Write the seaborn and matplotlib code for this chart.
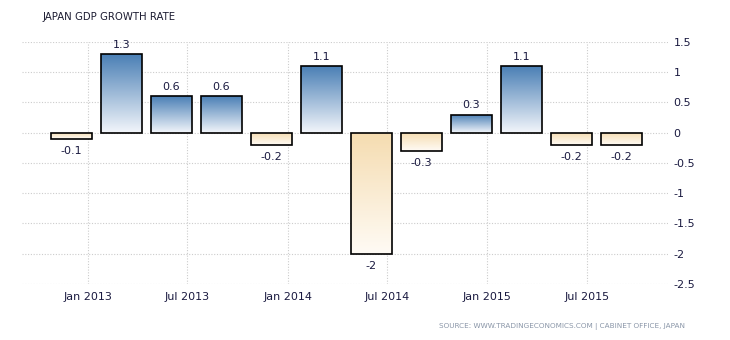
import numpy as np
import pandas as pd
import matplotlib
matplotlib.use("Agg")
import matplotlib.pyplot as plt
import seaborn as sns
from matplotlib.colors import LinearSegmentedColormap

quarters = ["Q4 2012", "Q1 2013", "Q2 2013", "Q3 2013", "Q4 2013", "Q1 2014",
            "Q2 2014", "Q3 2014", "Q4 2014", "Q1 2015", "Q2 2015", "Q3 2015"]
values = [-0.1, 1.3, 0.6, 0.6, -0.2, 1.1, -2.0, -0.3, 0.3, 1.1, -0.2, -0.2]
value_labels = ["-0.1", "1.3", "0.6", "0.6", "-0.2", "1.1", "-2", "-0.3", "0.3", "1.1", "-0.2", "-0.2"]
xtick_labels = ["Jan 2013", "Jul 2013", "Jan 2014", "Jul 2014", "Jan 2015", "Jul 2015"]
xtick_pos = [0.34, 2.32, 4.33, 6.32, 8.31, 10.31]
ytick_vals = [1.5, 1, 0.5, 0, -0.5, -1, -1.5, -2, -2.5]
ytick_labels = ["1.5", "1", "0.5", "0", "-0.5", "-1", "-1.5", "-2", "-2.5"]

df = pd.DataFrame({"quarter": quarters, "value": values})

sns.set_theme(style="white")
plt.rcParams["font.family"] = ["DejaVu Sans"]

fig = plt.figure(figsize=(7.3, 3.4), dpi=100)
ax = fig.add_axes([0.030, 0.1647, 0.885, 0.7118])

sns.barplot(data=df, x="quarter", y="value", ax=ax, width=0.81,
            facecolor="none", edgecolor="black", linewidth=1.2, errorbar=None, zorder=3)
for p in ax.patches:
    p.set_joinstyle("miter")

ax.set_xlim(-0.99, 11.93)
ax.set_ylim(-2.5, 1.5)

blue_cmap = LinearSegmentedColormap.from_list("b", ["#f3f6fb", "#4a7fb5"])
beige_cmap = LinearSegmentedColormap.from_list("o", ["#fffbf5", "#f5dcb0"])

grad = np.linspace(0, 1, 256).reshape(-1, 1)
for patch, v in zip(ax.patches, values):
    x0 = patch.get_x()
    w = patch.get_width()
    y0 = patch.get_y()
    h = patch.get_height()
    ylo, yhi = min(y0, y0 + h), max(y0, y0 + h)
    cmap = blue_cmap if v >= 0 else beige_cmap
    im = ax.imshow(grad, cmap=cmap, aspect="auto", origin="lower",
                   extent=[x0, x0 + w, ylo, yhi], zorder=2, interpolation="bilinear")
    im.set_clip_path(patch)

for i, (v, lab) in enumerate(zip(values, value_labels)):
    if v >= 0:
        ax.annotate(lab, (i, v), xytext=(0, 3), textcoords="offset points",
                    ha="center", va="bottom", fontsize=8, color="#1a1a40")
    else:
        ax.annotate(lab, (i, v), xytext=(0, -5), textcoords="offset points",
                    ha="center", va="top", fontsize=8, color="#1a1a40")

ax.set_xticks(xtick_pos)
ax.set_xticklabels(xtick_labels, fontsize=8, color="#1a1a40")
ax.set_yticks(ytick_vals)
ax.set_yticklabels(ytick_labels, fontsize=8, color="#1a1a40")
ax.yaxis.tick_right()
ax.tick_params(axis="x", length=0, pad=6)
ax.tick_params(axis="y", length=0, pad=4)
ax.set_xlabel("")
ax.set_ylabel("")
ax.grid(True, color="#cccccc", linestyle=(0, (1, 1.5)), linewidth=0.8, zorder=0)
ax.set_axisbelow(True)
for s in ax.spines.values():
    s.set_visible(False)

fig.text(43 / 730, 1 - 17 / 340, "JAPAN GDP GROWTH RATE", fontsize=7.3,
         color="#1a1a30", ha="left", va="center")
fig.text(685 / 730, 1 - 326 / 340,
         "SOURCE: WWW.TRADINGECONOMICS.COM | CABINET OFFICE, JAPAN",
         fontsize=5.2, color="#8a96a8", ha="right", va="center")

fig.savefig("out.png", dpi=100)
